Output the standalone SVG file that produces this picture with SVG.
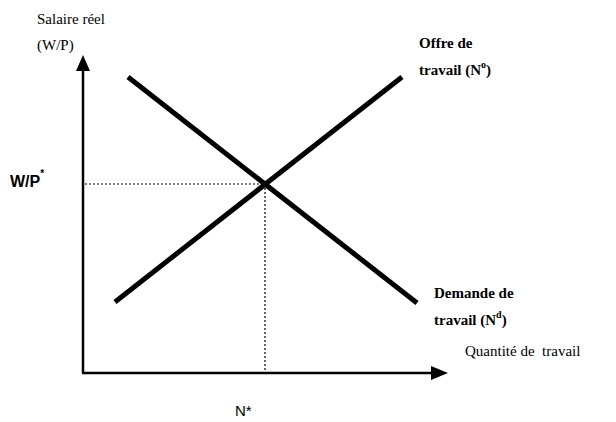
<svg xmlns="http://www.w3.org/2000/svg" width="616" height="422" viewBox="0 0 616 422">
<style>
.serif{font-family:'Times New Roman','Liberation Serif','DejaVu Serif',serif;font-size:15px;fill:#000}
.b{font-weight:bold}
.sans{font-family:'Liberation Sans',Arial,'DejaVu Sans',sans-serif;fill:#000}
.axis{stroke:#000;stroke-width:2.5;fill:none}
.curve{stroke:#000;stroke-width:5;fill:none}
.dot{stroke:#000;stroke-width:1.2;stroke-dasharray:2,2;fill:none}
</style>
<g id="connectors">
<line class="dot" x1="85" y1="184" x2="265" y2="184"/>
<line class="dot" x1="265" y1="184" x2="265" y2="372"/>
<line class="axis" x1="83" y1="373" x2="83" y2="70"/>
<polygon points="83,55 76,71 90,71" fill="#000"/>
<line class="axis" x1="82" y1="373" x2="432" y2="373"/>
<polygon points="448,373 431,366 431,380" fill="#000"/>
</g>
<g id="supply">
<line class="curve" x1="115" y1="302" x2="402" y2="77"/>
</g>
<g id="demand">
<line class="curve" x1="128" y1="77" x2="417" y2="303"/>
</g>
<g id="ylabel">
<text class="serif" x="37" y="24">Salaire réel</text>
<text class="serif" x="37" y="50">(W/P)</text>
</g>
<g id="supply-label">
<text class="serif b" x="419" y="48">Offre de</text>
<text class="serif b" x="419" y="75">travail (N<tspan font-size="10" dy="-7">o</tspan><tspan dy="7">)</tspan></text>
</g>
<g id="demand-label">
<text class="serif b" x="434" y="298">Demande de</text>
<text class="serif b" x="434" y="325">travail (N<tspan font-size="10" dy="-7">d</tspan><tspan dy="7">)</tspan></text>
</g>
<g id="xlabel">
<text class="serif" x="465" y="356" xml:space="preserve">Quantité de  travail</text>
</g>
<g id="wp-star">
<text class="sans b" x="10" y="187" font-size="16">W/P<tspan font-size="10" dy="-10">*</tspan></text>
</g>
<g id="n-star">
<text class="sans" x="235" y="416" font-size="15">N*</text>
</g>
</svg>
